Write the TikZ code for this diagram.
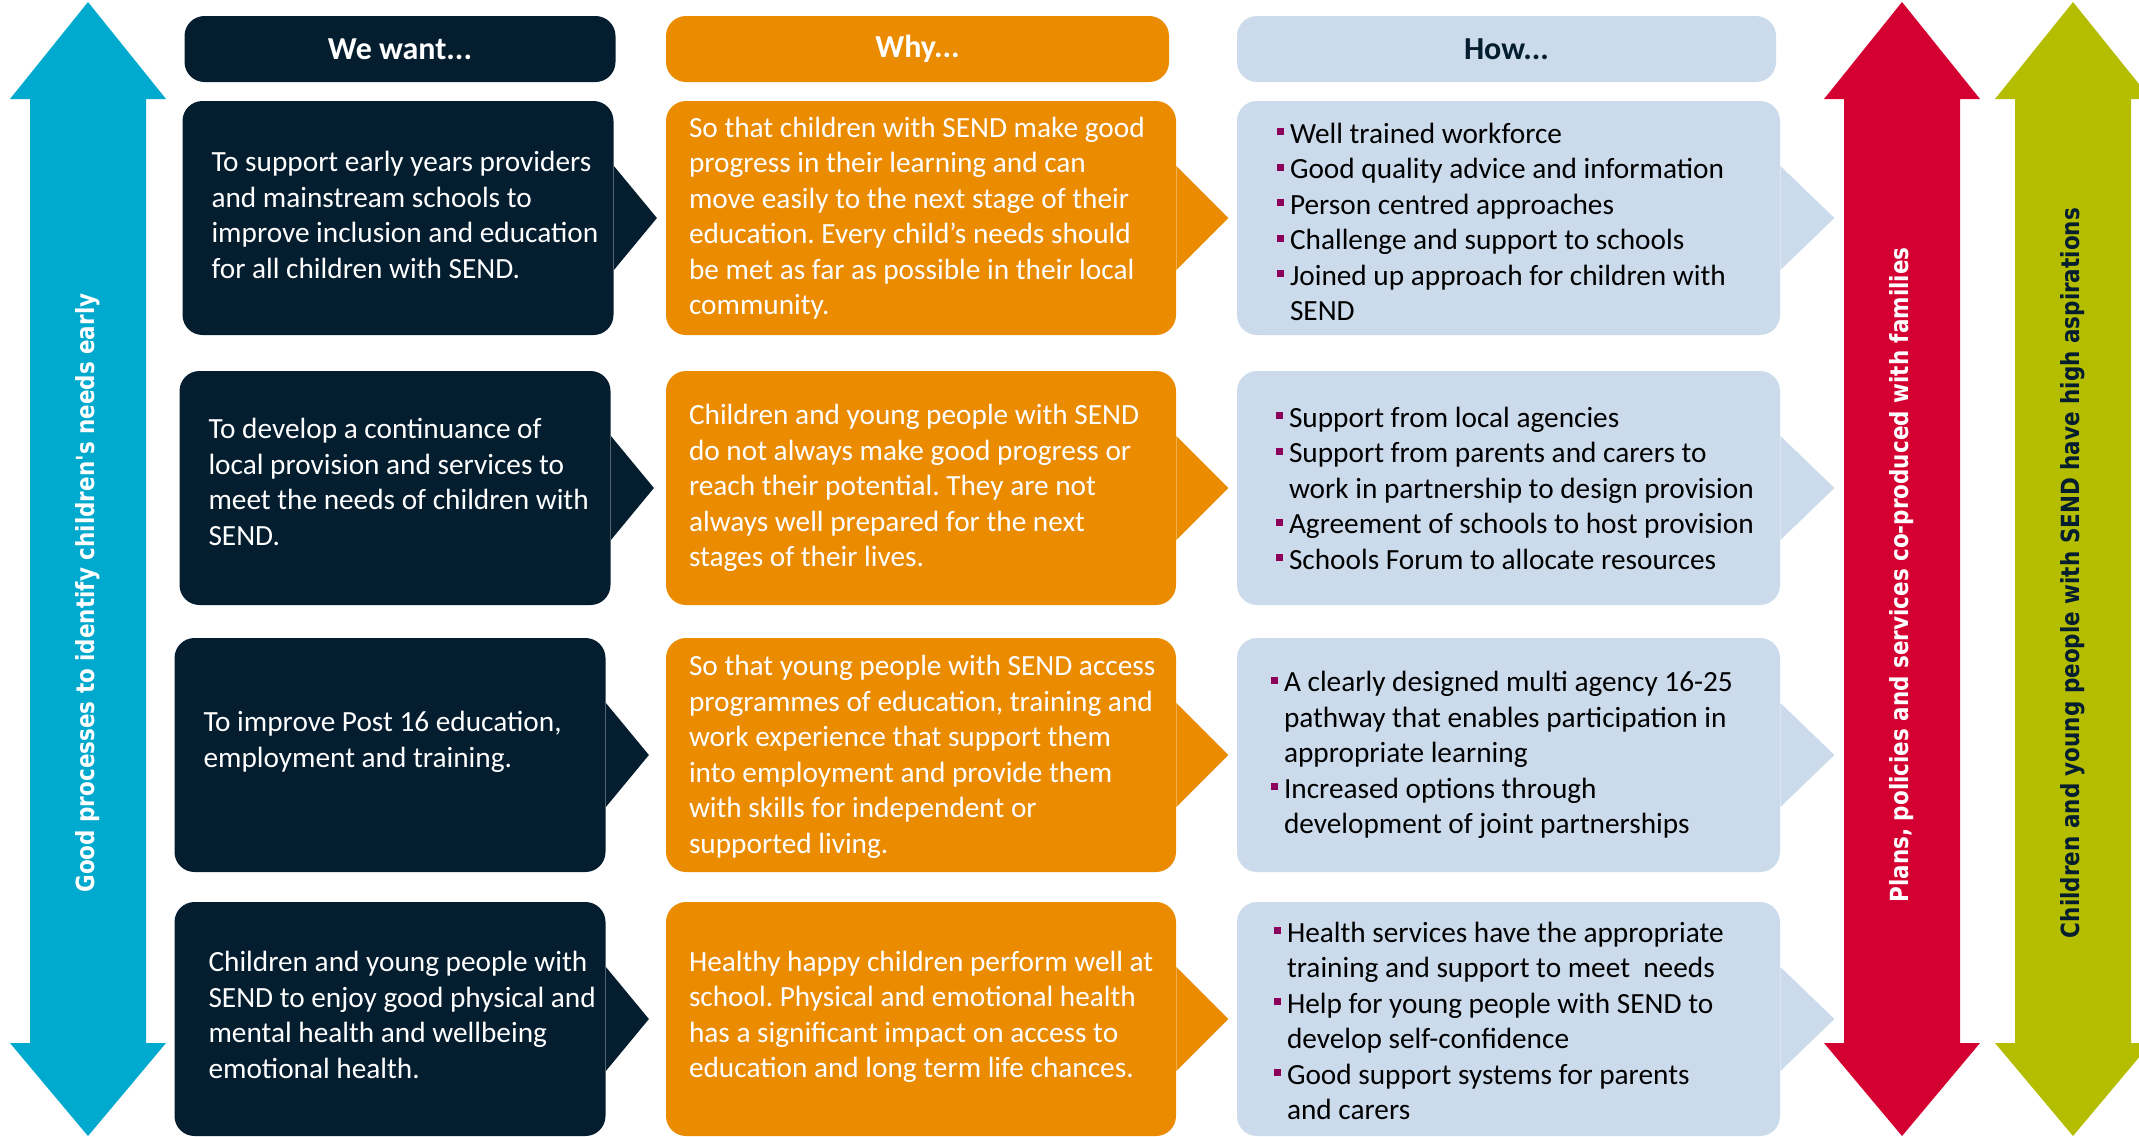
\documentclass[tikz,border=0pt]{standalone}
\usepackage{fontspec}
\setmainfont{Carlito}
\newfontfamily\bandfont{DejaVu Sans}[FakeStretch=0.86]
\usetikzlibrary{positioning,calc}
\definecolor{sendnavy}{RGB}{4,30,48}
\definecolor{sendorange}{RGB}{234,139,0}
\definecolor{sendblue}{RGB}{203,219,236}
\definecolor{sendcyan}{RGB}{0,169,206}
\definecolor{sendred}{RGB}{213,0,50}
\definecolor{sendolive}{RGB}{181,189,0}
\definecolor{sendpurple}{RGB}{139,0,90}
\newcommand\howitem{\makebox[6.5pt][l]{\textcolor{sendpurple}{\rule[4pt]{3.5pt}{3.5pt}}}}
\newcommand\howcont{\hspace*{6.5pt}}
\frenchspacing

\begin{document}
\begin{tikzpicture}[x=0.5pt,y=-0.5pt,
box/.style={rounded corners=10pt,minimum height=117pt,inner sep=0pt},
want/.style={box,fill=sendnavy,minimum width=215.5pt},
why/.style={box,fill=sendorange,minimum width=255pt},
how/.style={box,fill=sendblue,minimum width=271.5pt},
txt/.style={inner sep=0pt,align=left,font=\fontsize{14.65}{17.75}\selectfont},
head/.style={rounded corners=10pt,minimum height=33pt,inner sep=0pt,font=\fontsize{16}{19}\selectfont\bfseries},
band/.style={rotate=90,inner sep=0pt,font=\bandfont\bfseries\fontsize{12.5}{15}\selectfont}]
\useasboundingbox (0,0) rectangle (2139,1136);

% side arrows
\foreach \x/\c in {88/sendcyan,1902/sendred,2073/sendolive}
  \fill[\c] (\x,2) -- (\x+78,99) -- (\x+58,99) -- (\x+58,1043) -- (\x+78,1043)
    -- (\x,1136) -- (\x-78,1043) -- (\x-58,1043) -- (\x-58,99) -- (\x-78,99) -- cycle;
\node[band,text=white] (early) at (88,593) {Good processes to identify children's needs early};
\node[band,text=white] (plans) at (1902,575) {Plans, policies and services co-produced with families};
\node[band,text=sendnavy] (aims) at (2073,573) {Children and young people with SEND have high aspirations};

% headers
\node[head,fill=sendnavy,text=white,minimum width=215.5pt] (hwant) at (400,49) {We want...};
\node[head,fill=sendorange,text=white,minimum width=251.5pt] (hwhy) at (917.5,49) {Why...};
\node[head,fill=sendblue,text=sendnavy,minimum width=269.5pt] (hhow) at (1506.5,49) {How...};

% boxes
\foreach \n/\x/\y in {w1/398/218,w2/395/488,w3/390/755,w4/390/1019}
  \node[want] (\n) at (\x,\y) {};
\foreach \n/\y in {y1/218,y2/488,y3/755,y4/1019}
  \node[why] (\n) at (921,\y) {};
\foreach \n/\y in {h1/218,h2/488,h3/755,h4/1019}
  \node[how] (\n) at (1508.5,\y) {};

% pointers
\foreach \n/\c/\d in {w1/sendnavy/21.5pt,w2/sendnavy/21.5pt,w3/sendnavy/21.5pt,w4/sendnavy/21.5pt,
  y1/sendorange/26pt,y2/sendorange/26pt,y3/sendorange/26pt,y4/sendorange/26pt,
  h1/sendblue/27pt,h2/sendblue/27pt,h3/sendblue/27pt,h4/sendblue/27pt}
  \fill[\c] ([yshift=26pt]\n.east) -- ([xshift=\d]\n.east) -- ([yshift=-26pt]\n.east) -- cycle;

% we want
\node[txt,text=white,right=14.5pt of w1.west,yshift=1.5pt] (w1t) {To support early years providers\\and mainstream schools to\\improve inclusion and education\\for all children with SEND.};
\node[txt,text=white,right=14.5pt of w2.west,yshift=3pt] (w2t) {To develop a continuance of\\local provision and services to\\meet the needs of children with\\SEND.};
\node[txt,text=white,right=14.5pt of w3.west,yshift=6.5pt] (w3t) {To improve Post 16 education,\\employment and training.};
\node[txt,text=white,right=17pt of w4.west,yshift=2pt] (w4t) {Children and young people with\\SEND to enjoy good physical and\\mental health and wellbeing\\emotional health.};

% why
\node[txt,text=white,right=11.5pt of y1.west] (y1t) {So that children with SEND make good\\progress in their learning and can\\move easily to the next stage of their\\education. Every child’s needs should\\be met as far as possible in their local\\community.};
\node[txt,text=white,right=11.5pt of y2.west] (y2t) {Children and young people with SEND\\do not always make good progress or\\reach their potential. They are not\\always well prepared for the next\\stages of their lives.};
\node[txt,text=white,right=11.5pt of y3.west,yshift=-1pt] (y3t) {So that young people with SEND access\\programmes of education, training and\\work experience that support them\\into employment and provide them\\with skills for independent or\\supported living.};
\node[txt,text=white,right=11.5pt of y4.west,yshift=1pt] (y4t) {Healthy happy children perform well at\\school. Physical and emotional health\\has a significant impact on access to\\education and long term life chances.};

% how
\node[txt,right=20pt of h1.west,yshift=-2pt] (h1t) {\howitem Well trained workforce\\\howitem Good quality advice and information\\\howitem Person centred approaches\\\howitem Challenge and support to schools\\\howitem Joined up approach for children with\\\howcont SEND};
\node[txt,right=19.5pt of h2.west] (h2t) {\howitem Support from local agencies\\\howitem Support from parents and carers to\\\howcont work in partnership to design provision\\\howitem Agreement of schools to host provision\\\howitem Schools Forum to allocate resources};
\node[txt,right=17pt of h3.west] (h3t) {\howitem A clearly designed multi agency 16-25\\\howcont pathway that enables participation in\\\howcont appropriate learning\\\howitem Increased options through\\\howcont development of joint partnerships};
\node[txt,right=18.5pt of h4.west,yshift=-1pt] (h4t) {\howitem Health services have the appropriate\\\howcont training and support to meet\ \ needs\\\howitem Help for young people with SEND to\\\howcont develop self-confidence\\\howitem Good support systems for parents\\\howcont and carers};
\end{tikzpicture}
\end{document}
